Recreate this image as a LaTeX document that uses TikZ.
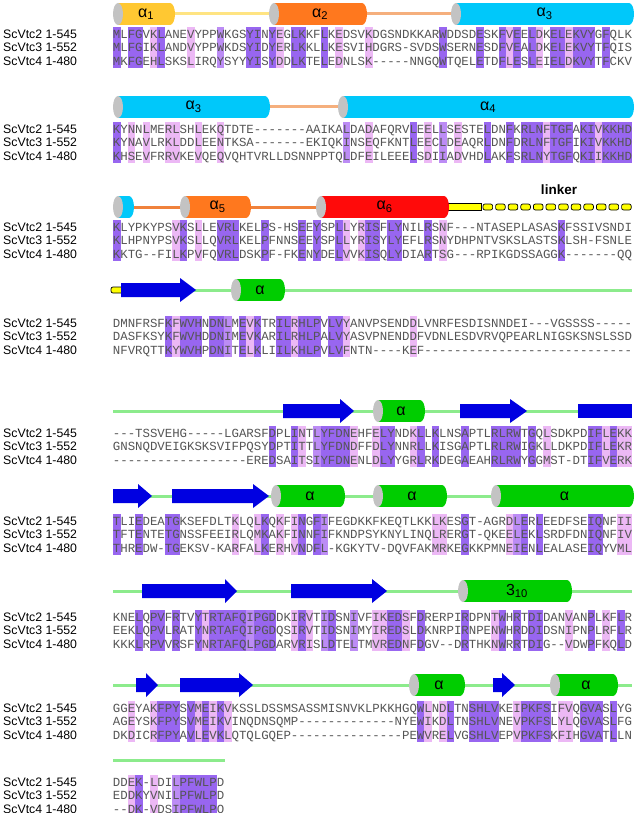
\documentclass[tikz,border=0pt]{standalone}
\usepackage{fontspec}
\setmainfont{Liberation Sans}
\newfontfamily\seqfont{Liberation Mono}

\definecolor{cdark}{RGB}{152,102,240}
\definecolor{cmed}{RGB}{188,140,245}
\definecolor{clight}{RGB}{236,184,245}
\definecolor{seqgray}{RGB}{85,85,85}
\definecolor{cgold}{RGB}{255,200,50}
\definecolor{corange}{RGB}{255,120,30}
\definecolor{ccyan}{RGB}{0,200,250}
\definecolor{cred}{RGB}{255,10,10}
\definecolor{cgreen}{RGB}{0,205,0}
\definecolor{capgray}{RGB}{195,195,195}
\definecolor{cgline}{RGB}{140,235,140}
\definecolor{clyline}{RGB}{255,228,130}
\definecolor{cpline}{RGB}{245,175,125}
\definecolor{coline}{RGB}{240,130,60}
\definecolor{sblue}{RGB}{0,0,225}
\definecolor{linky}{RGB}{255,255,0}

\tikzset{
  seqc/.style={inner sep=0pt, anchor=base, font=\seqfont\fontsize{12.4}{13}\selectfont, text=seqgray},
  lab/.style={inner sep=0pt, anchor=base west, font=\fontsize{12.3}{14}\selectfont},
  alab/.style={inner sep=0pt, font=\fontsize{16}{16}\selectfont},
  gline/.style={draw=cgline, line width=3pt},
  yline/.style={draw=clyline, line width=3pt},
  pline/.style={draw=cpline, line width=3pt},
  oline/.style={draw=coline, line width=3pt},
  linkbox/.style={fill=linky, draw=black, line width=0.7pt, rounded corners=2pt},
}

\newcommand\rscell[5]{%
  \ifcase#1\relax\or
    \fill[clight] (#2,#3-6.75) rectangle ++(7.6,13.7);\or
    \fill[cmed] (#2,#3-6.75) rectangle ++(7.6,13.7);\or
    \fill[cdark] (#2,#3-6.75) rectangle ++(7.6,13.7);\fi
  \node[seqc] (#5) at (#2+3.707,#3+4.2) {#4};}

\newcommand\cylbody[4]{% xa xb y color
  \fill[#4] (#1+5,#3-11) rectangle (#2-5,#3+11);
  \fill[#4] (#2-5,#3) ellipse [x radius=5pt, y radius=11pt];
  \fill[capgray] (#1+5,#3) ellipse [x radius=5pt, y radius=11pt];}
\newcommand\cyl[6]{% xa xb y color label name
  \cylbody{#1}{#2}{#3}{#4}
  \node[alab] (#6) at ({(#1+#2)/2+2},#3) {#5};}
\newcommand\sarrow[4]{% xa xhead xtip y
  \fill[sblue] (#1,#4-7) -- (#2,#4-7) -- (#2,#4-12) -- (#3,#4) -- (#2,#4+12) -- (#2,#4+7) -- (#1,#4+7) -- cycle;}
\newcommand\seqlabels[2]{% block y
  \node[lab] (lab#1a) at (3,#2+4.2) {ScVtc2 1-545};
  \node[lab] (lab#1b) at (3,#2+13.5+4.2) {ScVtc3 1-552};
  \node[lab] (lab#1c) at (3,#2+27+4.2) {ScVtc4 1-480};}

\ExplSyntaxOn
% properties: hydrophobic polar small positive negative charged aromatic aliphatic tiny proline
\cs_new:Npn \rs_prop:n #1
  {
    \str_case:nnF {#1}
      {
        {A}{1010000010} {C}{1010000000} {D}{0110110000} {E}{0100110000}
        {F}{1000001000} {G}{1010000010} {H}{1101011000} {I}{1000000100}
        {K}{1101010000} {L}{1000000100} {M}{1000000000} {N}{0110000000}
        {P}{0010000001} {Q}{0100000000} {R}{0101010000} {S}{0110000010}
        {T}{1110000000} {V}{1010000100} {W}{1100001000} {Y}{1100001000}
      }
      {0000000000}
  }
\int_new:N \l_rs_score_int
\int_new:N \l_rs_cls_int
\str_new:N \l_rs_pa_str
\str_new:N \l_rs_pb_str
\str_new:N \l_rs_pc_str
\cs_new_protected:Npn \rs_emit:nnnnn #1#2#3#4#5 { \rscell {#1} {#2} {#3} {#4} {#5} }
\cs_generate_variant:Nn \rs_emit:nnnnn { eeeee }
\cs_new_protected:Npn \rs_col:nnnnnn #1#2#3#4#5#6
  {
    \int_zero:N \l_rs_score_int
    \bool_if:nTF
      { \str_if_eq_p:nn {#4} {-} || \str_if_eq_p:nn {#5} {-} || \str_if_eq_p:nn {#6} {-} }
      { \int_set:Nn \l_rs_cls_int { 0 } }
      {
        \bool_if:nTF { \str_if_eq_p:nn {#4} {#5} && \str_if_eq_p:nn {#4} {#6} }
          { \int_set:Nn \l_rs_cls_int { 3 } }
          {
            \str_set:Ne \l_rs_pa_str { \rs_prop:n {#4} }
            \str_set:Ne \l_rs_pb_str { \rs_prop:n {#5} }
            \str_set:Ne \l_rs_pc_str { \rs_prop:n {#6} }
            \int_step_inline:nn { 10 }
              {
                \bool_if:nT
                  {
                    \int_compare_p:nNn { \str_item:Nn \l_rs_pa_str {##1} } = { \str_item:Nn \l_rs_pb_str {##1} }
                    &&
                    \int_compare_p:nNn { \str_item:Nn \l_rs_pa_str {##1} } = { \str_item:Nn \l_rs_pc_str {##1} }
                  }
                  { \int_incr:N \l_rs_score_int }
              }
            \int_compare:nNnTF \l_rs_score_int = { 10 }
              { \int_set:Nn \l_rs_cls_int { 2 } }
              {
                \int_compare:nNnTF \l_rs_score_int = { 9 }
                  { \int_set:Nn \l_rs_cls_int { 1 } }
                  { \int_set:Nn \l_rs_cls_int { 0 } }
              }
          }
      }
    \rs_emit:eeeee { \int_use:N \l_rs_cls_int } { \fp_eval:n { 113 + (#2 - 1) * 7.414 } } { \fp_eval:n { #3 } } {#4} { b#1r1c#2 }
    \rs_emit:eeeee { \int_use:N \l_rs_cls_int } { \fp_eval:n { 113 + (#2 - 1) * 7.414 } } { \fp_eval:n { #3 + 13.5 } } {#5} { b#1r2c#2 }
    \rs_emit:eeeee { \int_use:N \l_rs_cls_int } { \fp_eval:n { 113 + (#2 - 1) * 7.414 } } { \fp_eval:n { #3 + 27 } } {#6} { b#1r3c#2 }
  }
\cs_generate_variant:Nn \rs_col:nnnnnn { nnneee }
\cs_new_protected:Npn \rs_block:nnnnn #1#2#3#4#5
  {
    \int_step_inline:nn { \str_count:n {#3} }
      {
        \rs_col:nnneee {#1} {##1} {#2}
          { \str_item:nn {#3} {##1} }
          { \str_item:nn {#4} {##1} }
          { \str_item:nn {#5} {##1} }
      }
  }
\cs_new_eq:NN \seqblock \rs_block:nnnnn
\ExplSyntaxOff

\begin{document}
\begin{tikzpicture}[x=1pt,y=-1pt]
\useasboundingbox (0,0) rectangle (635,813);

% ---------- block 1 ----------
\draw[yline] (174,14) -- (269,14);
\draw[pline] (366,14) -- (451,14);
\cyl{113}{175}{14}{cgold}{α\textsubscript{1}}{h1}
\cyl{269}{367}{14}{corange}{α\textsubscript{2}}{h2}
\cyl{451}{634}{14}{ccyan}{α\textsubscript{3}}{h3a}
\seqlabels{1}{34}
\seqblock{1}{34}{MLFGVKLANEVYPPWKGSYINYEGLKKFLKEDSVKDGSNDKKARWDDSDESKFVEELDKELEKVYGFQLK}{MLFGIKLANDVYPPWKDSYIDYERLKKLLKESVIHDGRS-SVDSWSERNESDFVEALDKELEKVYTFQIS}{MKFGEHLSKSLIRQYSYYYISYDDLKTELEDNLSK-----NNGQWTQELETDFLESLEIELDKVYTFCKV}

% ---------- block 2 ----------
\draw[pline] (268,107) -- (340,107);
\cyl{113}{270}{107}{ccyan}{α\textsubscript{3}}{h3b}
\cyl{338}{634}{107}{ccyan}{α\textsubscript{4}}{h4}
\seqlabels{2}{129}
\seqblock{2}{129}{KYNNLMERLSHLEKQTDTE-------AAIKALDADAFQRVLEELLSESTELDNFKRLNFTGFAKIVKKHD}{KYNAVLRKLDDLEENTKSA-------EKIQKINSEQFKNTLEECLDEAQRLDNFDRLNFTGFIKIVKKHD}{KHSEVFRRVKEVQEQVQHTVRLLDSNNPPTQLDFEILEEELSDIIADVHDLAKFSRLNYTGFQKIIKKHD}

% ---------- block 3 ----------
\draw[oline] (128,207) -- (183,207);
\draw[oline] (249,207) -- (318,207);
\cylbody{113}{134}{207}{ccyan}
\cyl{180}{251}{207}{corange}{α\textsubscript{5}}{h5}
\filldraw[fill=linky, draw=black, line width=0.7pt] (440,203.5) rectangle (481,210.5);
\cyl{316}{449}{207}{cred}{α\textsubscript{6}}{h6}
\foreach \k in {0,...,11} {\filldraw[linkbox] ({483+\k*12.6},204) rectangle ++(9.6,6);}
\node[font=\bfseries\fontsize{13.5}{14}\selectfont, inner sep=0pt] (linker) at (559,190) {linker};
\seqlabels{3}{227}
\seqblock{3}{227}{KLYPKYPSVKSLLEVRLKELPS-HSEEYSPLLYRISFLYNILRSNF---NTASEPLASASKFSSIVSNDI}{KLHPNYPSVKSLLQVRLKELPFNNSEEYSPLLYRISYLYEFLRSNYDHPNTVSKSLASTSKLSH-FSNLE}{KKTG--FILKPVFQVRLDSKPF-FKENYDELVVKISQLYDIARTSG---RPIKGDSSAGGK-------QQ}

% ---------- block 4 ----------
\draw[gline] (190,290) -- (632,290);
\filldraw[fill=linky, draw=black, line width=0.7pt, rounded corners=2pt] (111,287) rectangle (126,293);
\sarrow{121}{180}{196}{290}
\cyl{231}{285}{290}{cgreen}{α}{s4a}
\seqlabels{4}{323}
\seqblock{4}{323}{DMNFRSFKFWVHNDNLMEVKTRILRHLPVLVYANVPSENDDLVNRFESDISNNDEI---VGSSSS-----}{DASFKSYKFWVHDDNIMEVKARILRHLPALVYASVPNENDDFVDNLESDVRVQPEARLNIGSKSNSLSSD}{NFVRQTTKYWVHPDNITELKLIILKHLPVLVFNTN----KEF----------------------------}

% ---------- block 5 ----------
\draw[gline] (113,411) -- (632,411);
\sarrow{283}{340}{354}{411}
\cyl{373}{425}{411}{cgreen}{α}{s5a}
\sarrow{460}{510}{527}{411}
\fill[sblue] (578,404) rectangle (632,418);
\seqlabels{5}{433}
\seqblock{5}{433}{---TSSVEHG-----LGARSFDPLINTLYFDNEHFELYNDKLLKLNSAPTLRLRWTGQLSDKPDIFLEKK}{GNSNQDVEIGKSKSVIFPQSYDPTITTLYFDNDFFDLYNNRLLKISGAPTLRLRWIGKLLDKPDIFLEKR}{------------------EREDSAITSIYFDNENLDLYYGRLRKDEGAEAHRLRWYGGMST-DTIFVERK}

% ---------- block 6 ----------
\draw[gline] (113,496) -- (632,496);
\sarrow{113}{138}{152}{496}
\sarrow{172}{253}{269}{496}
\cyl{271}{345}{496}{cgreen}{α}{s6a}
\cyl{373}{447}{496}{cgreen}{α}{s6b}
\cyl{491}{634}{496}{cgreen}{α}{s6c}
\seqlabels{6}{521}
\seqblock{6}{521}{TLIEDEATGKSEFDLTKLQLKQKFINGFIFEGDKKFKEQTLKKLKESGT-AGRDLERLEEDFSEIQNFII}{TFTENTETGNSSFEEIRLQMKAKFINNFIFKNDPSYKNYLINQLRERGT-QKEELEKLSRDFDNIQNFIV}{THREDW-TGEKSV-KARFALKERHVNDFL-KGKYTV-DQVFAKMRKEGKKPMNEIENLEALASEIQYVML}

% ---------- block 7 ----------
\draw[gline] (113,591) -- (632,591);
\sarrow{142}{225}{237}{591}
\sarrow{291}{372}{387}{591}
\cyl{458}{572}{591}{cgreen}{3\textsubscript{10}}{s7a}
\seqlabels{7}{617}
\seqblock{7}{617}{KNELQPVFRTVYTRTAFQIPGDDKIRVTIDSNIVFIKEDSFDRERPIRDPNTWHRTDIDANVANPLKFLR}{EEKLQPVLRATYNRTAFQIPGDQSIRVTIDSNIMYIREDSLDKNRPIRNPENWHRDDIDSNIPNPLRFLR}{KKKLRPVVRSFYNRTAFQLPGDARVRISLDTELTMVREDNFDGV--DRTHKNWRRTDIG--VDWPFKQLD}

% ---------- block 8 ----------
\draw[gline] (113,685) -- (632,685);
\sarrow{136}{146}{158}{685}
\sarrow{180}{239}{253}{685}
\cyl{409}{465}{685}{cgreen}{α}{s8a}
\sarrow{493}{502}{515}{685}
\cyl{550}{618}{685}{cgreen}{α}{s8b}
\seqlabels{8}{708}
\seqblock{8}{708}{GGEYAKFPYSVMEIKVKSSLDSSMSASSMISNVKLPKKHGQWLNDLTNSHLVKEIPKFSIFVQGVASLYG}{AGEYSKFPYSVMEIKVINQDNSQMP-------------NYEWIKDLTNSHLVNEVPKFSLYLQGVASLFG}{DKDICRFPYAVLEVKLQTQLGQEP---------------PEWVRELVGSHLVEPVPKFSKFIHGVATLLN}

% ---------- block 9 ----------
\draw[gline] (113,760) -- (225,760);
\seqlabels{9}{782}
\seqblock{9}{782}{DDEK-LDILPFWLPD}{EDDKYVNILPFWLPD}{--DK-VDSIPFWLPQ}
\end{tikzpicture}
\end{document}
